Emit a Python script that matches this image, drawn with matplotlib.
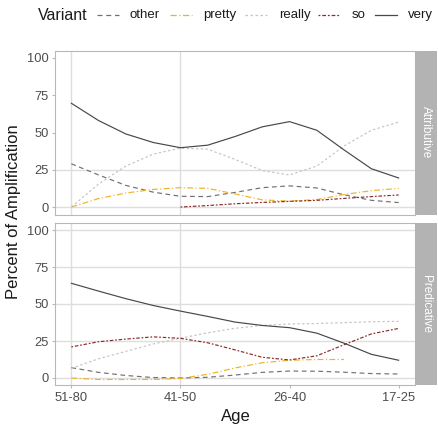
import numpy as np
import matplotlib
matplotlib.use("Agg")
import matplotlib.pyplot as plt
from matplotlib.lines import Line2D

plt.rcParams['font.family'] = ['Liberation Sans', 'DejaVu Sans']

# ---- data ----
age_labels = ["51-80", "41-50", "26-40", "17-25"]
age_pos = [1, 2, 3, 4]
x_read = [1, 1.25, 1.5, 1.75, 2, 2.25, 2.5, 2.75, 3, 3.25, 3.5, 3.75, 4]
variants = ["other", "pretty", "really", "so", "very"]
facets = ["Attributive", "Predicative"]
nan = np.nan

attr_other = [29, 21.5, 14.5, 10, 7.2, 7, 9.8, 13, 14.2, 12.8, 8.2, 4.5, 3]
attr_pretty = [0, 5.7, 9.4, 11.8, 13, 12.5, 8.8, 4.8, 4, 5, 8.4, 11, 12.5]
attr_really = [0, 15.5, 27.5, 35.5, 39.5, 38.8, 32, 24.5, 21.5, 27.5, 41, 51.5, 57]
attr_so = [nan, nan, nan, nan, 0, 1, 2.2, 3.1, 3.8, 4.5, 5.8, 7, 8.1]
attr_very = [69.6, 58, 49, 43.3, 39.8, 41.5, 47.3, 53.8, 57.3, 51.5, 38.3, 25.7, 19.5]

pred_other = [7, 3.8, 1.7, 0.3, 0, 0.5, 2, 3.8, 4.7, 4.6, 3.9, 3, 2.7]
pred_pretty = [0, -1, -1, -1, -0.3, 2.5, 6.8, 10.3, 12, 12.5, 12.5, nan, nan]
pred_really = [6.5, 13, 18, 23, 26.9, 30.5, 33.6, 35.5, 36.5, 36.8, 37.4, 38, 38.3]
pred_so = [21, 24.5, 26.3, 27.8, 26.8, 23.8, 19, 14, 12.2, 15, 22.5, 29.8, 33.5]
pred_very = [64, 58.7, 53.6, 49, 45.2, 41.6, 37.8, 35.5, 34, 30.3, 23.5, 16, 12]

data = {
    "Attributive": [attr_other, attr_pretty, attr_really, attr_so, attr_very],
    "Predicative": [pred_other, pred_pretty, pred_really, pred_so, pred_very],
}

colors = {"other": "#707070", "pretty": "#f0b323", "really": "#c4c4c4",
          "so": "#8b2a2a", "very": "#484848"}
styles = {"other": (0, (4, 3)), "pretty": (0, (5, 2, 1, 2)), "really": (0, (2, 2)),
          "so": (0, (1.5, 1.5, 3, 1.5)), "very": "solid"}

W, H = 439, 425
fig = plt.figure(figsize=(W / 100, H / 100), dpi=100)

def fx(px):
    return px / W

def fy(py):
    return 1 - py / H

panel_left, panel_right = 55, 415
panels = [(50.5, 214.5), (222.6, 385.4)]
grid_c = "#dedede"
border_c = "#b8b8b8"

for i, (facet, (ptop, pbot)) in enumerate(zip(facets, panels)):
    ax = fig.add_axes([fx(panel_left), fy(pbot), fx(panel_right - panel_left), (pbot - ptop) / H])
    ax.set_xlim(0.85, 4.15)
    ax.set_ylim(-5, 105)
    ax.set_facecolor("white")
    vgrid = [1, 2]
    hgrid = [0, 25] if i == 0 else [0, 25, 50, 75, 100]
    for v in vgrid:
        ax.axvline(v, color=grid_c, lw=1.0, zorder=0)
    for h in hgrid:
        ax.axhline(h, color=grid_c, lw=1.0, zorder=0)
    for name, vals in zip(variants, data[facet]):
        ax.plot(x_read, vals, color=colors[name], linestyle=styles[name], lw=0.85, zorder=2)
    for s in ax.spines.values():
        s.set_color(border_c)
        s.set_linewidth(0.8)
    ax.set_yticks([0, 25, 50, 75, 100])
    ax.set_yticklabels(["0", "25", "50", "75", "100"])
    ax.set_xticks(age_pos)
    ax.tick_params(axis="both", colors=border_c, length=2.5, width=0.8,
                   labelcolor="#4d4d4d", labelsize=9.3, pad=2)
    if i == 0:
        ax.tick_params(axis="x", labelbottom=False, length=0)
    else:
        ax.set_xticklabels(age_labels)
    sax = fig.add_axes([fx(415), fy(pbot), fx(437 - 415), (pbot - ptop) / H])
    sax.set_facecolor("#b3b3b3")
    sax.set_xticks([]); sax.set_yticks([])
    for s in sax.spines.values():
        s.set_visible(False)
    sax.text(0.5, 0.5, facet, rotation=-90, ha="center", va="center",
             color="white", fontsize=8.5, transform=sax.transAxes)

fig.text(fx(235.5), fy(417), "Age", ha="center", va="center", fontsize=12, color="#1a1a1a")
fig.text(fx(14), fy(212), "Percent of Amplification", ha="center", va="center",
         rotation=90, fontsize=12, color="#1a1a1a")

# legend
ly = fy(15)
fig.text(fx(38), ly, "Variant", ha="left", va="center", fontsize=11.5, color="#1a1a1a")
entries = [(97, 130), (170, 203), (245, 279), (318, 352), (375, 408)]
for name, (lx, tx) in zip(variants, entries):
    fig.add_artist(Line2D([fx(lx), fx(lx + 22)], [ly, ly], transform=fig.transFigure,
                          color=colors[name], linestyle=styles[name], lw=0.9))
    fig.text(fx(tx), ly, name, ha="left", va="center", fontsize=9.5, color="#1a1a1a")

fig.savefig("out.png", dpi=100)
